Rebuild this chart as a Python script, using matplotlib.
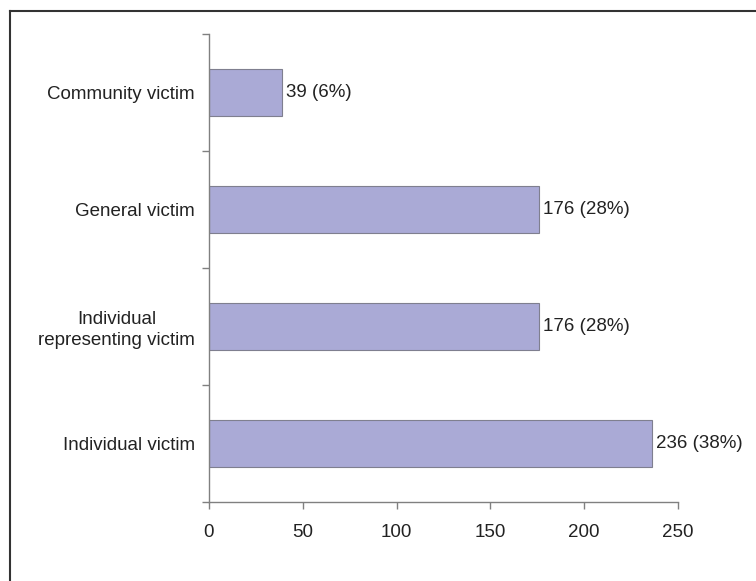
import matplotlib
matplotlib.use("Agg")
import matplotlib.pyplot as plt
from matplotlib.lines import Line2D

categories = ["Individual victim", "Individual\nrepresenting victim", "General victim", "Community victim"]
counts = [236, 176, 176, 39]
percents = [38, 28, 28, 6]
xticks = [0, 50, 100, 150, 200, 250]

plt.rcParams['font.family'] = ['Liberation Sans', 'DejaVu Sans']

fig = plt.figure(figsize=(7.56, 5.81), dpi=100)
ax = fig.add_axes([209/756, 1-502/581, (678-209)/756, (502-34)/581])

ypos = list(range(len(categories)))
ax.barh(ypos, counts, height=0.41, color='#aaaad6', edgecolor='#7f7f8f', linewidth=0.8)
for y, c, p in zip(ypos, counts, percents):
    ax.annotate(f"{c} ({p}%)", xy=(c, y), xytext=(3, 0), textcoords='offset points',
                va='center', ha='left', fontsize=13.5, color='#222222')

ax.set_xlim(0, 250)
ax.set_ylim(-0.5, 3.5)
ax.set_xticks(xticks)
ax.set_xticklabels([str(t) for t in xticks], fontsize=13.5, color='#222222')
ax.set_yticks([-0.5, 0.5, 1.5, 2.5, 3.5])
ax.set_yticklabels([])
ax.set_yticks(ypos, minor=True)
ax.set_yticklabels(categories, minor=True, fontsize=13.5, color='#222222',
                   ha='right', multialignment='center', linespacing=1.25)
ax.tick_params(axis='y', which='minor', length=0, pad=10)
ax.tick_params(axis='both', which='major', length=5, color='#808080', width=1)
ax.tick_params(axis='x', pad=11)
for s in ['top', 'right']:
    ax.spines[s].set_visible(False)
for s in ['left', 'bottom']:
    ax.spines[s].set_color('#808080')
    ax.spines[s].set_linewidth(1)

fig.add_artist(Line2D([10/756, 1.0], [1-11/581, 1-11/581], transform=fig.transFigure, color='#333333', linewidth=1.5))
fig.add_artist(Line2D([10/756, 10/756], [1-11/581, 0.0], transform=fig.transFigure, color='#333333', linewidth=1.5))

fig.savefig("out.png", dpi=100)
